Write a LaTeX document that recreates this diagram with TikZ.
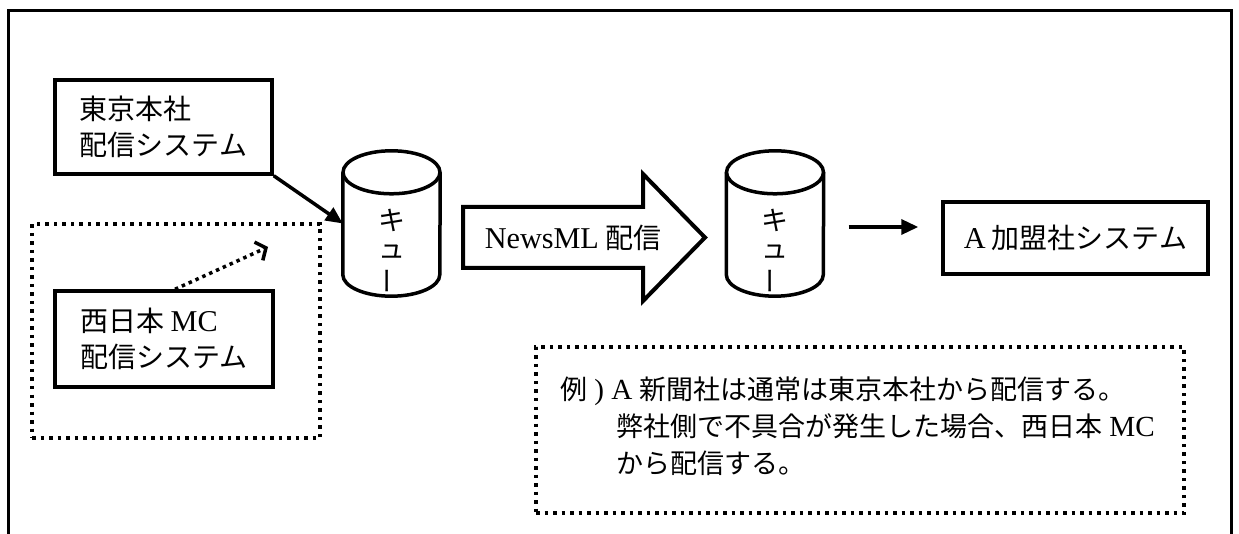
\documentclass[tikz,border=0pt]{standalone}
\usepackage{fontspec}
\setmainfont{Liberation Serif}[Scale=1.08]
\newfontfamily\jp{Noto Sans CJK JP}
\usetikzlibrary{arrows.meta}
\begin{document}
\begin{tikzpicture}[x=1pt,y=1pt,
  box/.style={draw, line width=3.5pt, inner sep=0pt, align=left,
    font=\jp\fontsize{28}{36}\selectfont},
  dotbox/.style={draw, line width=3.5pt, dash pattern=on 3.5pt off 5pt, inner sep=0pt},
  lbl/.style={inner sep=0pt, align=left, font=\jp\fontsize{28}{37}\selectfont},
  notelbl/.style={inner sep=0pt, align=left, font=\jp\fontsize{27}{37}\selectfont},
  arr/.style={line width=3.5pt, -{Triangle[length=17pt,width=15pt]}},
  dotarr/.style={line width=3.5pt, dash pattern=on 3.5pt off 4pt,
    -{Straight Barb[length=8pt,width=20pt,line width=3.5pt]}},
  cyl/.style={inner sep=0pt, minimum width=97pt, minimum height=145pt},
  cyltext/.style={inner sep=0pt, align=center, font=\jp\fontsize{27}{28}\selectfont},
  outline/.style={line width=3.5pt},
]
\useasboundingbox (0,0) rectangle (1239,-534);
% outer frame
\draw[line width=3pt] (8,-534) -- (8,-11) -- (1231,-11) -- (1231,-534);

% source systems
\node[box, minimum width=217pt, minimum height=94pt] (tokyo) at (163.5,-127)
  {東京本社\\配信システム};
\node[dotbox, minimum width=288pt, minimum height=214pt] (westgrp) at (176,-331) {};
\node[box, minimum width=218pt, minimum height=96pt] (nishi) at (164,-339)
  {西日本 {\rmfamily MC}\\配信システム};

% queue 1
\node[cyl] (q1) at (391.5,-223.5) {};
\draw[outline] ([yshift=-21.5pt]q1.north west) -- ([yshift=21.5pt]q1.south west)
  arc[start angle=180, end angle=360, x radius=48.5pt, y radius=21.5pt]
  -- ([yshift=-21.5pt]q1.north east);
\draw[outline] ([yshift=-21.5pt]q1.north) ellipse[x radius=48.5pt, y radius=21.5pt];
\node[cyltext] (q1t) at (391.5,-252) {キ\\ュ\\\rotatebox[origin=c]{90}{ー}};

% queue 2
\node[cyl] (q2) at (775,-223.5) {};
\draw[outline] ([yshift=-21.5pt]q2.north west) -- ([yshift=21.5pt]q2.south west)
  arc[start angle=180, end angle=360, x radius=48.5pt, y radius=21.5pt]
  -- ([yshift=-21.5pt]q2.north east);
\draw[outline] ([yshift=-21.5pt]q2.north) ellipse[x radius=48.5pt, y radius=21.5pt];
\node[cyltext] (q2t) at (775,-252) {キ\\ュ\\\rotatebox[origin=c]{90}{ー}};

% big NewsML arrow
\draw[line width=4pt, line join=miter] (463,-207) -- (643,-207) -- (643,-174)
  -- (705,-237.5) -- (643,-301) -- (643,-268) -- (463,-268) -- cycle;
\node[lbl] (nml) at (573,-237.5) {{\rmfamily NewsML} 配信};

% member system
\node[box, minimum width=265pt, minimum height=72pt] (abox) at (1075.5,-238)
  {{\rmfamily A} 加盟社システム};

% connectors
\draw[arr] (tokyo.south east) -- (q1.west);
\coordinate (dtip) at (268,-247);
\draw[dotarr] ([xshift=11pt]nishi.north) -- (dtip);
\draw[arr, shorten <=25pt, shorten >=23pt] ([yshift=-3.5pt]q2.east) -- ([yshift=-3.5pt]q2.east -| abox.west);

% note
\node[dotbox, minimum width=648pt, minimum height=166pt] (note) at (860,-430) {};
\node[notelbl, anchor=west] (notetext) at (560,-426)
  {例{\rmfamily\ ) A }新聞社は通常は東京本社から配信する。\\
   \hspace*{56pt}弊社側で不具合が発生した場合、西日本{\rmfamily\ MC}\\
   \hspace*{56pt}から配信する。};
\end{tikzpicture}
\end{document}
